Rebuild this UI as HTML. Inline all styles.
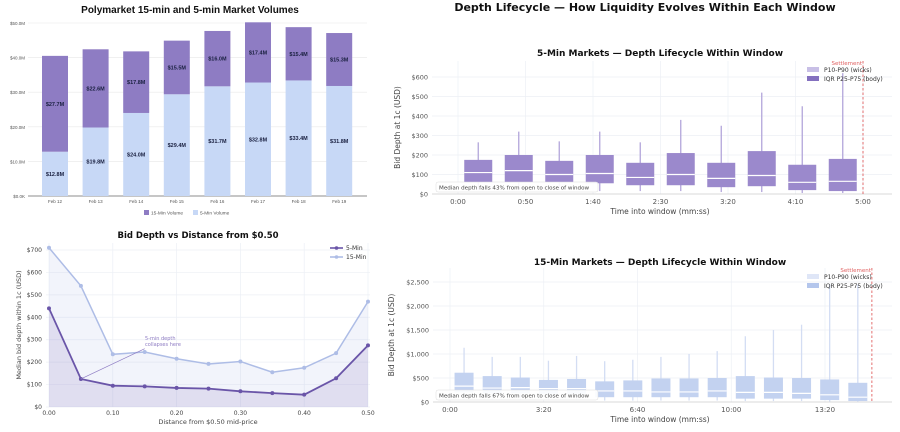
<!DOCTYPE html>
<html><head><meta charset="utf-8"><style>
html,body{margin:0;padding:0;background:#fff}
svg{display:block;font-family:"Liberation Sans","DejaVu Sans",sans-serif}
</style></head><body>
<svg id="s" width="900" height="432" viewBox="0 0 900 432" xmlns="http://www.w3.org/2000/svg">
<text x="190" y="13" text-anchor="middle" font-size="10" font-weight="bold" fill="#111">Polymarket 15-min and 5-min Market Volumes</text>
<text x="645" y="11" text-anchor="middle" font-size="11" font-weight="bold" font-family="DejaVu Sans, sans-serif" fill="#111">Depth Lifecycle — How Liquidity Evolves Within Each Window</text>
<text x="198" y="238" text-anchor="middle" font-size="8.5" font-weight="bold" font-family="DejaVu Sans, sans-serif" fill="#111">Bid Depth vs Distance from $0.50</text>
<text x="660" y="56" text-anchor="middle" font-size="9" font-weight="bold" font-family="DejaVu Sans, sans-serif" fill="#111">5-Min Markets — Depth Lifecycle Within Window</text>
<text x="660" y="265" text-anchor="middle" font-size="9" font-weight="bold" font-family="DejaVu Sans, sans-serif" fill="#111">15-Min Markets — Depth Lifecycle Within Window</text>
<g id="g1"></g><g id="g2"></g><g id="g3"></g><g id="g4"></g>
</svg>
<script>
// ---- chart 1: volumes
const volDays = ["Feb 12","Feb 13","Feb 14","Feb 15","Feb 16","Feb 17","Feb 18","Feb 19"];
const vol5 = [12.8,19.8,24.0,29.4,31.7,32.8,33.4,31.8];
const vol15 = [27.7,22.6,17.8,15.5,16.0,17.4,15.4,15.3];
const volTicks = [0,10,20,30,40,50];
const volTickLabels = ["$0.0K","$10.0M","$20.0M","$30.0M","$40.0M","$50.0M"];
// ---- chart 2: depth vs distance
const distX = [0,0.05,0.10,0.15,0.20,0.25,0.30,0.35,0.40,0.45,0.50];
const depth5 = [440,125,95,92,85,82,70,62,55,128,275];
const depth15 = [710,540,235,245,215,192,203,155,175,240,470];
const distTicks = [0,0.1,0.2,0.3,0.4,0.5];
const distTickLabels = ["0.00","0.10","0.20","0.30","0.40","0.50"];
const depthTicks = [0,100,200,300,400,500,600,700];
const depthTickLabels = ["$0","$100","$200","$300","$400","$500","$600","$700"];
// ---- chart 3: 5-min boxes (seconds)
const t5 = [15,45,75,105,135,165,195,225,255,285];
const p10_5 = [20,20,20,15,15,15,10,10,5,5];
const p25_5 = [60,60,60,55,45,45,35,40,20,15];
const med5 = [110,120,100,105,85,100,80,95,60,65];
const p75_5 = [175,200,170,200,160,210,160,220,150,180];
const p90_5 = [265,320,270,320,265,380,350,520,450,620];
const t5Ticks = [0,50,100,150,200,250,300];
const t5TickLabels = ["0:00","0:50","1:40","2:30","3:20","4:10","5:00"];
const y5Ticks = [0,100,200,300,400,500,600];
const y5TickLabels = ["$0","$100","$200","$300","$400","$500","$600"];
// ---- chart 4: 15-min boxes
const t15 = [30,90,150,210,270,330,390,450,510,570,630,690,750,810,870];
const p10_15 = [50,40,40,40,40,30,30,30,30,30,20,20,20,10,5];
const p25_15 = [200,180,180,170,170,100,100,100,100,100,70,70,70,40,20];
const med15 = [330,290,300,280,280,230,230,210,210,230,200,200,180,150,100];
const p75_15 = [610,540,510,460,480,430,450,490,490,500,540,510,500,470,400];
const p90_15 = [1130,940,940,860,960,850,880,940,1000,1060,1370,1500,1610,2450,2450];
const t15Ticks = [0,200,400,600,800];
const t15TickLabels = ["0:00","3:20","6:40","10:00","13:20"];
const y15Ticks = [0,500,1000,1500,2000,2500];
const y15TickLabels = ["$0","$500","$1,000","$1,500","$2,000","$2,500"];

const NS="http://www.w3.org/2000/svg";
function el(parent,tag,attrs,txt){const e=document.createElementNS(NS,tag);for(const k in attrs)e.setAttribute(k,attrs[k]);if(txt!==undefined)e.textContent=txt;parent.appendChild(e);return e;}

// chart 1
(function(){
const g=document.getElementById('g1');
const y=v=>196-v*(173/50);
const x=i=>55+i*40.6;
volTicks.forEach((t,i)=>{
 const gl=el(g,'line',{x1:28,x2:367,y1:y(t),y2:y(t),stroke:t===0?'#666':'#e8e8e8','stroke-width':t===0?0.8:0.6});
 
 
 const tl=el(g,'text',{x:25,y:y(t)+2,'text-anchor':'end','font-size':4.5,fill:'#555'},volTickLabels[i]);
 
 
});
volDays.forEach((d,i)=>{
 const b=el(g,'rect',{x:x(i)-13,y:y(vol5[i]),width:26,height:y(0)-y(vol5[i]),fill:'#c7d8f6'});
 
 
 const b2=el(g,'rect',{x:x(i)-13,y:y(vol5[i]+vol15[i]),width:26,height:y(0)-y(vol15[i]),fill:'#8e7cc3'});
 
 
 const l1=el(g,'text',{x:x(i),y:y(vol5[i]/2)+2,'text-anchor':'middle','font-size':5.5,'font-weight':'bold',fill:'#1a2040'},'$'+vol5[i].toFixed(1)+'M');
 
 
 const l2=el(g,'text',{x:x(i),y:y(vol5[i]+vol15[i]/2)+2,'text-anchor':'middle','font-size':5.5,'font-weight':'bold',fill:'#1a2040'},'$'+vol15[i].toFixed(1)+'M');
 
 
 const xt=el(g,'text',{x:x(i),y:203,'text-anchor':'middle','font-size':4.5,fill:'#555'},d);
 
 
});
const lg=el(g,'g',{});


el(lg,'rect',{x:144,y:210,width:5,height:5,fill:'#8e7cc3'});
el(lg,'text',{x:151,y:214.5,'font-size':4.8,fill:'#555'},'15-Min Volume');
el(lg,'rect',{x:193,y:210,width:5,height:5,fill:'#c7d8f6'});
el(lg,'text',{x:200,y:214.5,'font-size':4.8,fill:'#555'},'5-Min Volume');
})();

// chart 2
(function(){
const g=document.getElementById('g2');
const x=v=>49+v*(319/0.5);
const y=v=>407-v*(157/700);
distTicks.forEach((t,i)=>{
 const gl=el(g,'line',{x1:x(t),x2:x(t),y1:243,y2:407,stroke:'#eceff5','stroke-width':0.7});
 
 
 const tl=el(g,'text',{x:x(t),y:415,'text-anchor':'middle','font-size':6,fill:'#444','font-family':'DejaVu Sans, sans-serif'},distTickLabels[i]);
 
 
});
depthTicks.forEach((t,i)=>{
 const gl=el(g,'line',{x1:46,x2:370,y1:y(t),y2:y(t),stroke:'#eceff5','stroke-width':0.7});
 
 
 const tl=el(g,'text',{x:42,y:y(t)+2,'text-anchor':'end','font-size':6,fill:'#444','font-family':'DejaVu Sans, sans-serif'},depthTickLabels[i]);
 
 
});
const pts=(arr)=>arr.map((v,i)=>x(distX[i])+','+y(v)).join(' ');
const a15=el(g,'polygon',{points:x(0)+','+y(0)+' '+pts(depth15)+' '+x(0.5)+','+y(0),fill:'#a9b8e3','fill-opacity':0.15});


const a5=el(g,'polygon',{points:x(0)+','+y(0)+' '+pts(depth5)+' '+x(0.5)+','+y(0),fill:'#8e7cc3','fill-opacity':0.18});


const l15=el(g,'polyline',{points:pts(depth15),fill:'none',stroke:'#aebde6','stroke-width':1.5});


const l5=el(g,'polyline',{points:pts(depth5),fill:'none',stroke:'#6a55a8','stroke-width':1.8});


depth15.forEach((v,i)=>{const c=el(g,'circle',{cx:x(distX[i]),cy:y(v),r:2,fill:'#aebde6'});
 
 });
depth5.forEach((v,i)=>{const c=el(g,'circle',{cx:x(distX[i]),cy:y(v),r:2,fill:'#6a55a8'});
 
 });
const an=el(g,'line',{x1:x(0.05),y1:y(depth5[1]),x2:x(0.15),y2:y(260),stroke:'#8e7cc3','stroke-width':0.7});


const at=el(g,'text',{x:145,y:340,'font-size':5,fill:'#8e7cc3','font-family':'DejaVu Sans, sans-serif'});


el(at,'tspan',{x:145,dy:0},'5-min depth');el(at,'tspan',{x:145,dy:6},'collapses here');
const lg=el(g,'g',{'font-family':'DejaVu Sans, sans-serif','font-size':6,fill:'#333'});


el(lg,'line',{x1:330,x2:343,y1:248,y2:248,stroke:'#6a55a8','stroke-width':1.6});el(lg,'circle',{cx:336.5,cy:248,r:1.8,fill:'#6a55a8'});
el(lg,'text',{x:346,y:250},'5-Min');
el(lg,'line',{x1:330,x2:343,y1:257,y2:257,stroke:'#aebde6','stroke-width':1.6});el(lg,'circle',{cx:336.5,cy:257,r:1.8,fill:'#aebde6'});
el(lg,'text',{x:346,y:259},'15-Min');
const yl=el(g,'text',{x:0,y:0,transform:'translate(21,325) rotate(-90)','text-anchor':'middle','font-size':6.5,fill:'#444','font-family':'DejaVu Sans, sans-serif'},'Median bid depth within 1c (USD)');


const xl=el(g,'text',{x:208,y:424,'text-anchor':'middle','font-size':6.5,fill:'#444','font-family':'DejaVu Sans, sans-serif'},'Distance from $0.50 mid-price');


})();

// box charts
function boxChart(gid,o){
const g=document.getElementById(gid);
const x=t=>o.x0+t*o.sx;
const y=v=>o.y0-v*o.sy;
o.xt.forEach((t,i)=>{
 const gl=el(g,'line',{x1:x(t),x2:x(t),y1:o.top,y2:o.y0,stroke:'#eceff5','stroke-width':0.7});
 
 
 const tl=el(g,'text',{x:x(t),y:o.y0+10,'text-anchor':'middle','font-size':7,fill:'#555','font-family':'DejaVu Sans, sans-serif'},o.xl[i]);
 
 
});
o.yt.forEach((t,i)=>{
 const gl=el(g,'line',{x1:o.left,x2:892,y1:y(t),y2:y(t),stroke:t===0?'#ccc':'#eceff5','stroke-width':0.7});
 
 
 const tl=el(g,'text',{x:o.left-4,y:y(t)+2.5,'text-anchor':'end','font-size':6.5,fill:'#555','font-family':'DejaVu Sans, sans-serif'},o.yl[i]);
 
 
});
o.t.forEach((t,i)=>{
 const w=el(g,'line',{x1:x(t),x2:x(t),y1:y(o.p90[i]),y2:y(o.p10[i]),stroke:o.wc,'stroke-width':1.3});
 
 
 const b=el(g,'rect',{x:x(t)-o.bw/2,y:y(o.p75[i]),width:o.bw,height:y(o.p25[i])-y(o.p75[i]),fill:o.bc});
 
 
 const m=el(g,'line',{x1:x(t)-o.bw/2,x2:x(t)+o.bw/2,y1:y(o.med[i]),y2:y(o.med[i]),stroke:'#fff','stroke-width':1.2});
 
 
});
const s=el(g,'line',{x1:x(o.settle),x2:x(o.settle),y1:o.top,y2:o.y0,stroke:'#e06060','stroke-width':0.9,'stroke-dasharray':'2.5,2'});


const st=el(g,'text',{x:x(o.settle)-1,y:o.top+4,'text-anchor':'end','font-size':5.5,fill:'#e06060','font-family':'DejaVu Sans, sans-serif'},'Settlement');


const lg=el(g,'g',{'font-size':6,fill:'#333','font-family':'DejaVu Sans, sans-serif'});


el(lg,'rect',{x:807,y:o.top+6,width:12,height:5,fill:o.lc1});
el(lg,'text',{x:824,y:o.top+11},'P10-P90 (wicks)');
el(lg,'rect',{x:807,y:o.top+15,width:12,height:5,fill:o.lc2});
el(lg,'text',{x:824,y:o.top+20},'IQR P25-P75 (body)');
const ab=el(g,'g',{});


el(ab,'rect',{x:436,y:o.y0-12,width:162,height:10,rx:2,fill:'#fff','fill-opacity':0.9,stroke:'#ddd','stroke-width':0.5});
el(ab,'text',{x:439,y:o.y0-4.5,'font-size':5.6,fill:'#444','font-family':'DejaVu Sans, sans-serif'},o.note);
const yl=el(g,'text',{x:0,y:0,transform:'translate('+o.ylx+','+((o.top+o.y0)/2)+') rotate(-90)','text-anchor':'middle','font-size':7.5,fill:'#444','font-family':'DejaVu Sans, sans-serif'},'Bid Depth at 1c (USD)');


const xl=el(g,'text',{x:660,y:o.y0+20,'text-anchor':'middle','font-size':7.5,fill:'#444','font-family':'DejaVu Sans, sans-serif'},'Time into window (mm:ss)');


}
boxChart('g3',{pre:'five-min',x0:458,sx:405/300,y0:194,sy:117/600,top:61,left:432,t:t5,p10:p10_5,p25:p25_5,med:med5,p75:p75_5,p90:p90_5,xt:t5Ticks,xl:t5TickLabels,yt:y5Ticks,yl:y5TickLabels,bw:28,bc:'#9b89cc',wc:'#b3a6da',settle:300,lc1:'#c8bfe6',lc2:'#8470bf',note:'Median depth falls 43% from open to close of window',ylx:400});
boxChart('g4',{pre:'fifteen-min',x0:450,sx:375/800,y0:402,sy:120/2500,top:268,left:433,t:t15,p10:p10_15,p25:p25_15,med:med15,p75:p75_15,p90:p90_15,xt:t15Ticks,xl:t15TickLabels,yt:y15Ticks,yl:y15TickLabels,bw:19,bc:'#c3d2f0',wc:'#d3ddf3',settle:900,lc1:'#dfe6f7',lc2:'#b4c6ec',note:'Median depth falls 67% from open to close of window',ylx:394});
</script>
</body></html>
